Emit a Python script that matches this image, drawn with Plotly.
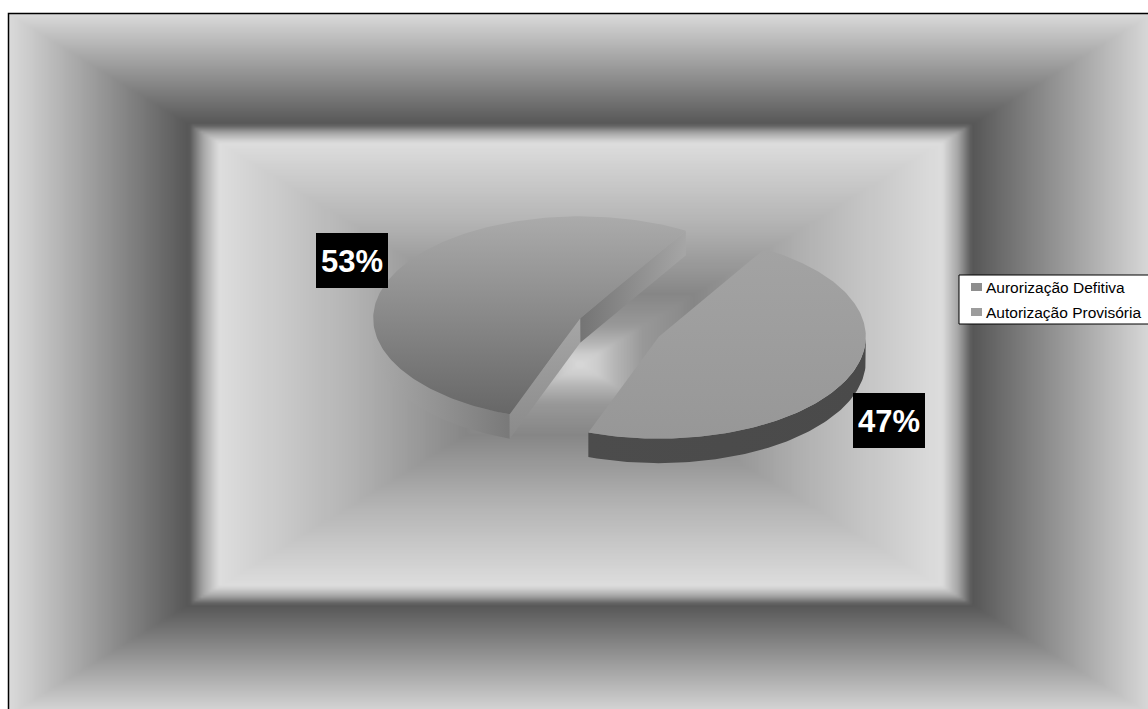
import numpy as np
import plotly.graph_objects as go

# ---- data -------------------------------------------------------------
categories = ["Aurorização Defitiva", "Autorização Provisória"]
shares = [53, 47]
label_text = [f"{v}%" for v in shares]

# ---- canvas / projection settings (pixels) ----------------------------
W, H = 1148, 709
CX, CY = 619.5, 327.5        # centre of the pie's top face
RX, RY = 207.0, 102.0        # ellipse radii of the tilted disc
DEPTH = 24.5                 # disc thickness on screen
EXPLODE = 0.21               # slice offset as a fraction of the radius
START_DEG = 59.3             # angle where the first slice begins (ccw)

# per-slice shading: top face, outer wall, start wall, end wall
SLICE_STYLE = [
    dict(top=("vertical", "#ababab", "#676767"),
         wall=("horizontal", "#aaaaaa", "#797979"),
         start=("horizontal", "#747474", "#a6a6a6"),
         end=("vertical", "#a6a6a6", "#8a8a8a")),
    dict(top=("vertical", "#a3a3a3", "#979797"),
         wall=("horizontal", "#4c4c4c", "#4a4a4a"),
         start=("horizontal", "#5a5a5a", "#5a5a5a"),
         end=("horizontal", "#5a5a5a", "#5a5a5a")),
]
LEGEND_KEY = ["#8e8e8e", "#9c9c9c"]

# background: rectangular "from centre" gradient with several stops
BG_CX, BG_CY, BG_HW, BG_HH = 580.0, 364.0, 572.0, 351.0
BG_STOPS_S = [0.0, 0.03, 0.065, 0.11, 0.20, 0.40, 0.632, 0.66, 0.684, 1.0]
BG_STOPS_V = [216, 204, 178, 152, 134, 179, 221, 165, 86, 218]

fig = go.Figure()

# ---- background heatmap ----------------------------------------------
STEP = 3
x0, y0 = 8.0, 13.0
xs = np.arange(x0 + STEP / 2, 1154, STEP)
ys = np.arange(y0 + STEP / 2, 717, STEP)
gx, gy = np.meshgrid(xs, ys)
s = np.maximum(np.abs(gx - BG_CX) / BG_HW, np.abs(gy - BG_CY) / BG_HH)
gray = np.interp(np.clip(s, 0, 1), BG_STOPS_S, BG_STOPS_V).round().astype(int)
fig.add_trace(go.Heatmap(
    z=gray.tolist(), x0=xs[0], dx=STEP, y0=ys[0], dy=STEP,
    colorscale=[[0, "#000000"], [1, "#ffffff"]], zmin=0, zmax=255,
    showscale=False, zsmooth="best", hoverinfo="skip"))


# ---- exploded 3-D pie ---------------------------------------------------
def rim(theta, off, dz=0.0):
    t = np.radians(theta)
    return (CX + off[0] + RX * np.cos(t), CY + off[1] - RY * np.sin(t) + dz)


def add_poly(px, py, spec):
    kind, c0, c1 = spec
    if kind == "vertical":
        lo, hi = min(py), max(py)
    else:
        lo, hi = min(px), max(px)
    fig.add_trace(go.Scatter(
        x=list(px) + [px[0]], y=list(py) + [py[0]], mode="lines",
        line=dict(width=0), fill="toself", fillcolor=c0,
        fillgradient=dict(type=kind, colorscale=[[0, c0], [1, c1]],
                          start=lo, stop=hi),
        hoverinfo="skip", showlegend=False))


total = float(sum(shares))
spans = []
a = START_DEG
for v in shares:
    b = a + 360.0 * v / total
    spans.append((a, b))
    a = b

tops = []
for (a0, a1), style in zip(spans, SLICE_STYLE):
    mid = np.radians((a0 + a1) / 2)
    off = (EXPLODE * RX * np.cos(mid), -EXPLODE * RY * np.sin(mid))
    apex = (CX + off[0], CY + off[1])

    # outer wall: only the part facing the viewer (lower half of the disc)
    for k in (-1, 0, 1):
        lo, hi = max(a0, 180 + 360 * k), min(a1, 360 + 360 * k)
        if hi > lo:
            th = np.linspace(lo, hi, 90)
            tx, ty = rim(th, off)
            bx, by = rim(th[::-1], off, DEPTH)
            add_poly(np.r_[tx, bx], np.r_[ty, by], style["wall"])

    # radial walls, drawn when their outward normal faces the viewer
    for edge, normal, key in ((a0, a0 - 90, "start"), (a1, a1 + 90, "end")):
        if np.sin(np.radians(normal)) < 0:
            rx_, ry_ = rim(edge, off)
            px = [apex[0], rx_, rx_, apex[0]]
            py = [apex[1], ry_, ry_ + DEPTH, apex[1] + DEPTH]
            add_poly(px, py, style[key])

    th = np.linspace(a0, a1, 180)
    tx, ty = rim(th, off)
    tops.append((np.r_[apex[0], tx], np.r_[apex[1], ty], style["top"]))

for px, py, spec in tops:
    add_poly(px, py, spec)

# ---- percentage labels -------------------------------------------------
LABEL_BOX = [(316, 233, 388, 288), (853, 393, 925, 448)]
for txt, (bx0, by0, bx1, by1) in zip(label_text, LABEL_BOX):
    fig.add_shape(type="rect", x0=bx0, y0=by0, x1=bx1, y1=by1,
                  xref="x", yref="y", fillcolor="#000000", line_width=0)
    fig.add_annotation(x=(bx0 + bx1) / 2, y=(by0 + by1) / 2 + 1, text=f"<b>{txt}</b>",
                       showarrow=False, xref="x", yref="y",
                       font=dict(family="Liberation Sans, Arial", size=31, color="#ffffff"))

# ---- legend ---------------------------------------------------------------
fig.add_shape(type="rect", x0=959, y0=275, x1=1160, y1=324, xref="x", yref="y",
              fillcolor="#ffffff", line=dict(color="#000000", width=1))
ROW_Y = [287, 312]
for name, col, yy in zip(categories, LEGEND_KEY, ROW_Y):
    fig.add_shape(type="rect", x0=971, y0=yy - 4, x1=982, y1=yy + 4,
                  xref="x", yref="y", fillcolor=col, line_width=0)
    fig.add_annotation(x=984, y=yy, text=name, showarrow=False, xanchor="left",
                       xref="x", yref="y",
                       font=dict(family="Liberation Sans, Arial", size=15.5, color="#000000"))

# ---- chart-area border -------------------------------------------------------
fig.add_shape(type="rect", x0=8.5, y0=13.5, x1=1160, y1=720, xref="x", yref="y",
              line=dict(color="#000000", width=1.5), fillcolor="rgba(0,0,0,0)")

fig.update_layout(
    width=W, height=H, autosize=False,
    margin=dict(l=0, r=0, t=0, b=0),
    paper_bgcolor="#ffffff", plot_bgcolor="#ffffff",
    showlegend=False,
    xaxis=dict(range=[0, W], visible=False, fixedrange=True),
    yaxis=dict(range=[H, 0], visible=False, fixedrange=True),
)

fig.write_html("out.html")
